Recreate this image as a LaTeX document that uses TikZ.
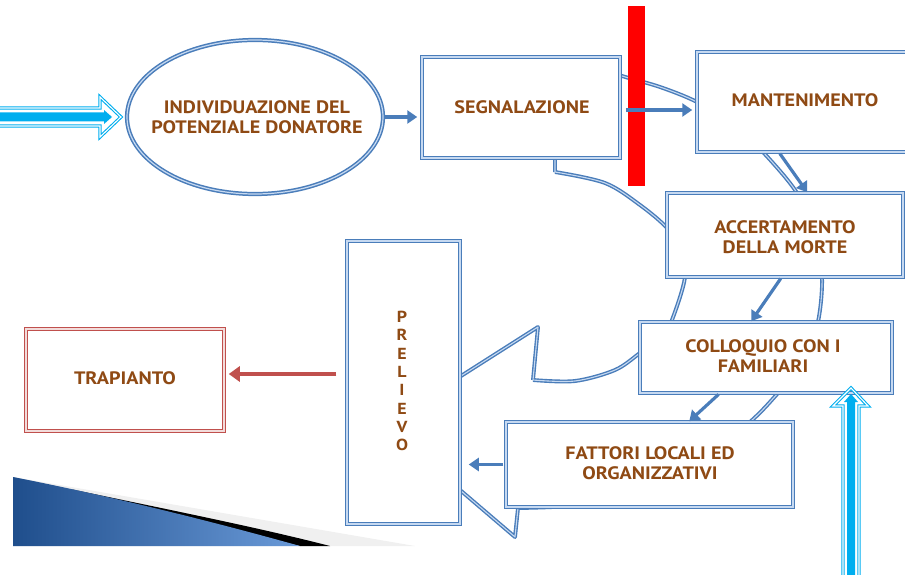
\documentclass[tikz,border=0pt]{standalone}
\usepackage{fontspec}
\setmainfont{PT Sans}
\newfontfamily\lblfont[FakeStretch=1.12]{PT Sans}
\usetikzlibrary{arrows.meta,shapes.geometric}
\definecolor{obl}{HTML}{4A7DBA}
\definecolor{obllight}{HTML}{C6D9F1}
\definecolor{ored}{HTML}{C0504D}
\definecolor{oredlight}{HTML}{F2DCDB}
\definecolor{txtbrown}{HTML}{8F4A14}
\definecolor{cyanarr}{HTML}{00AEEF}
\definecolor{decoblueA}{HTML}{1F4E8C}
\definecolor{decoblueB}{HTML}{6A9AD8}
\begin{document}
\begin{tikzpicture}[x=1pt,y=-1pt,
  box/.style={draw=obl, line width=1.5pt, double=obllight, double distance=1.2pt, fill=white, inner sep=0pt},
  redbox/.style={draw=ored, line width=1.5pt, double=oredlight, double distance=1.2pt, fill=white, inner sep=0pt},
  lbl/.style={text=txtbrown, font=\lblfont\bfseries\fontsize{18}{20}\selectfont, align=center},
  barr/.style={draw=obl, line width=3.2pt, -{Triangle[length=10pt,width=13pt]}},
  rarr/.style={draw=ored, line width=3.2pt, -{Triangle[length=11pt,width=15pt]}},
  band/.style={draw=obl, line width=1.4pt, double=obllight, double distance=1.1pt, line join=round},
  cyarr/.style={draw=cyanarr, line width=1.1pt, double=white, double distance=1.1pt, line join=miter},
]
\useasboundingbox (0,0) rectangle (905,575);

% bottom-left decoration
\fill[gray!12] (13,477) -- (415,546) -- (13,546) -- cycle;
\fill[black] (70,489) .. controls (180,512) and (260,528) .. (330,546) -- (300,546) .. controls (230,530) and (160,510) .. (70,489) -- cycle;
\shade[left color=decoblueA, right color=decoblueB] (13,477) .. controls (100,494) and (200,518) .. (300,546) -- (13,546) -- cycle;

% big circular band arrow
\draw[band] (555,172) -- (555,130) -- (600,68)
  plot[smooth, tension=0.55] coordinates {(600,68) (622,76) (660,87) (697,102) (735,125) (763,152) (797,193) (815,235) (822,277) (818,322) (805,360) (778,393) (750,422) (700,462) (640,492) (580,505) (518,508)}
  -- (515,537) -- (384,425) -- (538,327) -- (533,380)
  plot[smooth, tension=0.55] coordinates {(533,380) (575,381) (615,370) (640,353) (662,337) (672,320) (685,277) (680,250) (667,228) (640,205) (605,183) (555,172)};

% nodes
\node[box, shape=ellipse, minimum width=256pt, minimum height=154pt] (ell) at (255,117) {};
\node[lbl] at (257,117) {INDIVIDUAZIONE DEL\\POTENZIALE DONATORE};
\node[box, minimum width=198pt, minimum height=101pt] (seg) at (521,107.5) {};
\node[lbl] at (522,107) {SEGNALAZIONE};
\node[box, minimum width=216pt, minimum height=100pt] (man) at (805,102) {};
\node[lbl] at (805,100) {MANTENIMENTO};
\node[box, minimum width=236pt, minimum height=84pt] (acc) at (785,235) {};
\node[lbl] at (785,237) {ACCERTAMENTO\\DELLA MORTE};
\node[box, minimum width=252pt, minimum height=71pt] (col) at (766,357.5) {};
\node[lbl] at (763,356.5) {COLLOQUIO CON I\\FAMILIARI};
\node[box, minimum width=287pt, minimum height=85pt] (fat) at (649.5,464.5) {};
\node[lbl] at (650,463) {FATTORI LOCALI ED\\ORGANIZZATIVI};
\node[box, minimum width=113pt, minimum height=283pt] (pre) at (403.5,382.5) {};
\node[lbl, font=\lblfont\bfseries\fontsize{16}{18.3}\selectfont] at (402,381) {P\\R\\E\\L\\I\\E\\V\\O};
\node[redbox, minimum width=198pt, minimum height=102pt] (tra) at (125,380) {};
\node[lbl] at (125,378) {TRAPIANTO};

% red bar
\fill[red] (628,6) rectangle (645,186);

% connectors
\draw[barr, shorten <=1pt, shorten >=4pt] (ell.east) -- ([yshift=-9.5pt]seg.west);
\draw[barr, shorten <=5pt, shorten >=4pt] ([yshift=-2.5pt]seg.east) -- ([yshift=-8pt]man.west);
\draw[barr, shorten <=1pt, shorten >=0pt] ([xshift=83pt]man.south west) -- ([xshift=141pt]acc.north west);
\draw[barr, shorten <=1pt, shorten >=0pt] ([xshift=115pt]acc.south west) -- ([xshift=112pt]col.north west);
\draw[barr, shorten <=1pt, shorten >=0pt] ([xshift=80pt]col.south west) -- ([xshift=184pt]fat.north west);
\draw[barr, shorten <=2pt, shorten >=8pt] (fat.west) -- (fat.west -| pre.east);
\draw[rarr, shorten <=10pt, shorten >=4pt] ([yshift=8.5pt]pre.west) -- ([yshift=6pt]tra.east);

% cyan arrows
\coordinate (cyA) at (121,117);
\draw[cyarr] (-5,108) -- (100,108) -- (100,97) -- (cyA) -- (100,137) -- (100,126) -- (-5,126);
\fill[cyanarr] (-5,112.5) -- (104,112.5) -- (104,110) -- (112,117) -- (104,124) -- (104,121.5) -- (-5,121.5) -- cycle;
\coordinate (cyB) at (851,388);
\draw[cyarr] (843,580) -- (843,406) -- (833,406) -- (cyB) -- (868,406) -- (859,406) -- (859,580);
\fill[cyanarr] (847,580) -- (847,402) -- (844,402) -- (851,394) -- (858,402) -- (855,402) -- (855,580) -- cycle;
\end{tikzpicture}
\end{document}
